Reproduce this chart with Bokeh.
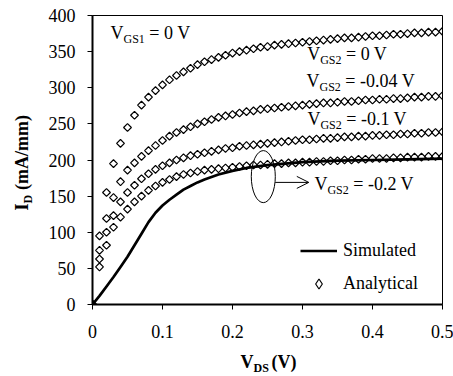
from math import pi

from bokeh.embed import file_html
from bokeh.models import (Arrow, ColumnDataSource, FixedTicker, Label, Legend,
                          LegendItem, OpenHead, Range1d)
from bokeh.plotting import figure
from bokeh.resources import INLINE

# Drain voltage grid of the analytical model (V)
vds = [0.00, 0.01, 0.02, 0.03, 0.04, 0.05, 0.06, 0.07, 0.08, 0.09,
       0.10, 0.11, 0.12, 0.13, 0.14, 0.15, 0.16, 0.17, 0.18, 0.19,
       0.20, 0.21, 0.22, 0.23, 0.24, 0.25, 0.26, 0.27, 0.28, 0.29,
       0.30, 0.31, 0.32, 0.33, 0.34, 0.35, 0.36, 0.37, 0.38, 0.39,
       0.40, 0.41, 0.42, 0.43, 0.44, 0.45, 0.46, 0.47, 0.48, 0.49, 0.50]

# Analytical drain current (mA/mm), VGS1 = 0 V
id_vgs2_0 = [0, 95, 155, 195, 223, 245, 262, 276, 287, 296,
             304, 311, 317, 322, 327, 332, 336, 339, 342, 345,
             348, 350, 352, 354, 356, 357, 359, 360, 361, 362,
             363, 364, 365, 366, 367, 368, 369, 369, 370, 371,
             372, 372, 373, 374, 374, 375, 376, 376, 377, 377, 378]
id_vgs2_m004 = [0, 75, 119, 148, 170, 186, 196, 205, 213, 220,
                227, 233, 238, 242, 246, 250, 253, 256, 259, 261,
                263, 265, 267, 268, 270, 271, 272, 273, 274, 275,
                276, 277, 278, 279, 279, 280, 281, 281, 282, 283,
                283, 284, 284, 285, 285, 286, 287, 287, 288, 288, 289]
id_vgs2_m01 = [0, 63, 100, 123, 142, 155, 165, 174, 181, 187,
               192, 196, 200, 203, 206, 208, 210, 212, 214, 216,
               217, 219, 220, 221, 222, 223, 224, 225, 226, 227,
               228, 228, 229, 230, 230, 231, 232, 232, 233, 233,
               234, 234, 235, 235, 236, 236, 237, 237, 238, 238, 239]
id_vgs2_m02 = [0, 52, 82, 107, 121, 132, 142, 150, 158, 164,
               169, 173, 177, 180, 182, 184, 186, 187, 188, 189,
               190, 191, 192, 193, 193, 194, 195, 195, 196, 196,
               197, 197, 198, 198, 199, 199, 200, 200, 201, 201,
               202, 202, 202, 203, 203, 204, 204, 204, 205, 205, 205]

# Simulated drain current for VGS2 = -0.2 V
sim_vds = [0.00, 0.01, 0.02, 0.03, 0.04, 0.05, 0.06, 0.07, 0.08, 0.09,
           0.10, 0.11, 0.12, 0.13, 0.14, 0.15, 0.16, 0.18, 0.20, 0.22,
           0.25, 0.30, 0.35, 0.40, 0.45, 0.50]
sim_id = [0, 12, 25, 38, 52, 66, 82, 98, 114, 127,
          137, 145, 152, 159, 164, 169, 173, 180, 185, 189,
          193, 197, 199, 200, 201, 202]

x_ticks = [0, 0.1, 0.2, 0.3, 0.4, 0.5]
x_tick_labels = ["0", "0.1", "0.2", "0.3", "0.4", "0.5"]
y_ticks = [0, 50, 100, 150, 200, 250, 300, 350, 400]

curve_labels = ["0 V", "-0.04 V", "-0.1 V", "-0.2 V"]

SERIF = "'Liberation Serif', 'Times New Roman', Times, serif"

# Advance widths (em) of the serif face, for laying out subscripts
REG = {'V': .722, 'G': .722, 'S': .556, '1': .5, '2': .5, ' ': .25}
BOLD = {'V': .722, 'D': .722, 'S': .556, 'I': .389, ' ': .25}
# distance from the alphabetic baseline up to the middle of the text box (em)
MID = 0.34

EN_SP = "\u2002"   # half-em space
NB_SP = "\u00a0"   # word space that is kept as written


def text_width(s, size, bold=False):
    table = BOLD if bold else REG
    return sum(table.get(c, .5) for c in s) * size


p = figure(width=453, height=376, output_backend="svg", toolbar_location=None,
           x_range=Range1d(0, 0.5), y_range=Range1d(0, 400),
           min_border_left=92, min_border_right=11,
           min_border_top=15, min_border_bottom=72)
p.background_fill_color = "white"
p.border_fill_color = "white"
p.outline_line_color = "black"
p.outline_line_width = 1
p.grid.visible = False

for ax in (p.xaxis, p.yaxis):
    ax.axis_line_width = 2
    ax.axis_line_color = "black"
    ax.major_tick_in = 0
    ax.major_tick_out = 5
    ax.major_tick_line_color = "black"
    ax.minor_tick_line_color = None
    ax.major_label_text_font = SERIF
    ax.major_label_text_font_size = "18px"
    ax.major_label_text_color = "black"

p.xaxis.ticker = FixedTicker(ticks=x_ticks)
p.xaxis.major_label_overrides = dict(zip(x_ticks, x_tick_labels))
p.xaxis.major_label_standoff = 15
p.yaxis.ticker = FixedTicker(ticks=y_ticks)
p.yaxis.major_label_standoff = 12

# Simulated curve
sim_r = p.line(sim_vds, sim_id, line_color="black", line_width=2.7)

# Analytical points, all four VGS2 values in one renderer; open diamonds are
# drawn as squares turned by 45 degrees.  The first point (the shared origin)
# uses the diamond marker so that the legend swatch is a diamond as well.
all_x = vds * 4
all_y = id_vgs2_0 + id_vgs2_m004 + id_vgs2_m01 + id_vgs2_m02
n_pts = len(all_x)
pts_src = ColumnDataSource(dict(
    x=all_x, y=all_y,
    marker=["diamond"] + ["square"] * (n_pts - 1),
    angle=[0.0] + [pi / 4] * (n_pts - 1),
    size=[9.0] + [5.5] * (n_pts - 1),
))
pts_r = p.scatter("x", "y", marker="marker", angle="angle", size="size",
                  source=pts_src, fill_color=None, line_color="black",
                  line_width=1.2)

legend = Legend(items=[LegendItem(label="Simulated", renderers=[sim_r]),
                       LegendItem(label="Analytical", renderers=[pts_r],
                                  index=0)],
                location=(208, 8), glyph_width=37, glyph_height=25,
                label_standoff=6, spacing=8, padding=0, margin=0,
                border_line_color=None, background_fill_alpha=0,
                label_text_font=SERIF, label_text_font_size="18px",
                label_text_color="black")
p.add_layout(legend)


def make_label(x, y, text, size, xo=0.0, yo=0.0, bold=False, angle=0.0):
    """Label anchored at its baseline start point (x, y) plus pixel offsets."""
    if angle:
        # quarter turn: glyph tops point left, so the middle is to the left
        xo -= MID * size
    else:
        yo += MID * size
    return Label(x=x, y=y, text=text, x_offset=xo, y_offset=yo, angle=angle,
                 text_align="left", text_baseline="middle",
                 text_font=SERIF, text_font_size=f"{size}px",
                 text_font_style="bold" if bold else "normal",
                 text_color="black")


def sub_label(x, y, base, sub, rest, size=18, sub_size=12, drop=4):
    """Curve label with a subscript: base, lowered subscript, then the rest."""
    w_base = text_width(base, size)
    w_sub = text_width(sub, sub_size) + text_width(" ", size)
    p.add_layout(make_label(x, y, base, size))
    p.add_layout(make_label(x, y, sub, sub_size, xo=w_base, yo=-drop))
    p.add_layout(make_label(x, y, rest, size, xo=w_base + w_sub))


sub_label(0.0257, 368, "V", "GS1", "= 0 V")
sub_label(0.3067, 337.7, "V", "GS2", "= " + curve_labels[0])
sub_label(0.3057, 300.3, "V", "GS2", "= " + curve_labels[1])
sub_label(0.307, 247.8, "V", "GS2", "= " + curve_labels[2])
sub_label(0.317, 157.8, "V", "GS2", "= " + curve_labels[3])

# Axis titles live in the border panels so the frame does not clip them;
# the gap left in each title is filled by its subscript label.
x_title = "V" + EN_SP + NB_SP + NB_SP + "(V)"
y_title = "I" + EN_SP + NB_SP + "(mA/mm)"
x_t0, y_x_t0 = 0.2114, -88.6
p.add_layout(make_label(x_t0, y_x_t0, x_title, 18, bold=True), "below")
p.add_layout(make_label(x_t0, y_x_t0, "DS", 12, bold=True,
                        xo=text_width("V", 18, True), yo=-4), "above")
y_t0x, y_t0y = -0.0914, 130.1
p.add_layout(make_label(y_t0x, y_t0y, y_title, 18, bold=True,
                        angle=pi / 2), "left")
p.add_layout(make_label(y_t0x, y_t0y, "D", 12, bold=True, angle=pi / 2,
                        xo=4, yo=text_width("I", 18, True)), "left")

# Ellipse around the VGS2 = -0.2 V curves with a pointer to their label
p.ellipse(x=[0.244], y=[177], width=[0.0343], height=[72],
          fill_color=None, line_color="black", line_width=1)
p.add_layout(Arrow(x_start=0.261, y_start=169, x_end=0.309, y_end=169,
                   line_color="black", line_width=1,
                   end=OpenHead(size=12, line_color="black", line_width=1)))

open("out.html", "w").write(file_html(p, INLINE))
